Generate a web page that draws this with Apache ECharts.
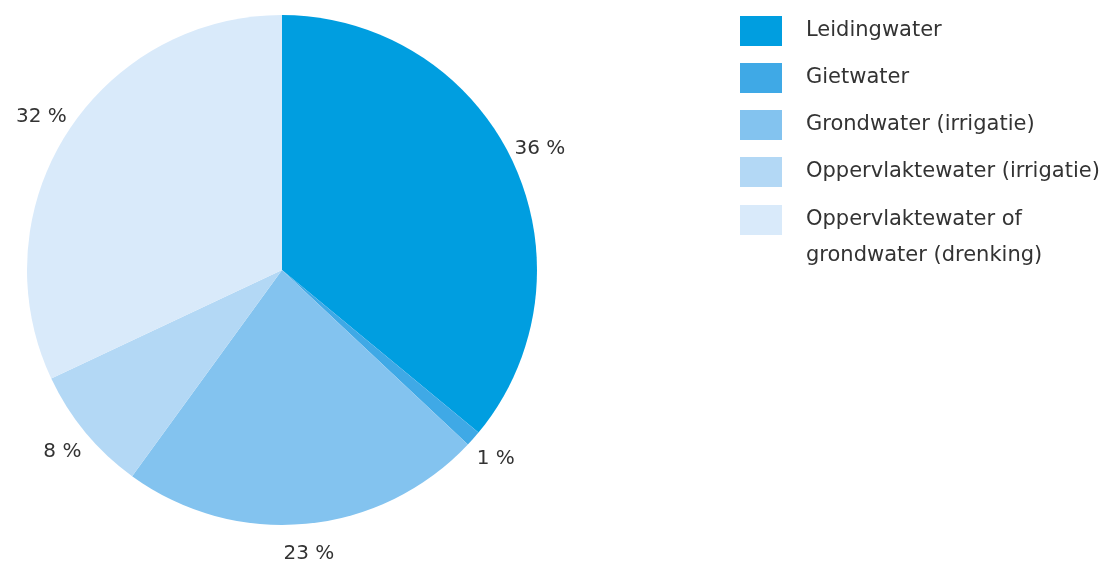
<!DOCTYPE html>
<html>
<head>
<meta charset="utf-8">
<script src="https://cdn.jsdelivr.net/npm/echarts@6/dist/echarts.min.js"></script>
<style>
  html, body { margin: 0; padding: 0; background: #ffffff; }
  #chart { width: 1112px; height: 563px; }
</style>
</head>
<body>
<div id="chart"></div>
<script>
// Water sources (share in %)
const categories = [
  'Leidingwater',
  'Gietwater',
  'Grondwater (irrigatie)',
  'Oppervlaktewater (irrigatie)',
  'Oppervlaktewater of\ngrondwater (drenking)'
];
const shares = [36, 1, 23, 8, 32];
const colors = ['#009ee0', '#3fa9e6', '#83c3ef', '#b3d8f5', '#d9eafa'];

const fontFamily = '"DejaVu Sans", "Open Sans", sans-serif';
const textColor = '#333333';

const pieData = categories.map((name, i) => ({
  name: name,
  value: shares[i],
  itemStyle: { color: colors[i] }
}));

// Thin transparent ring just outside the pie; it only carries the value labels
const labelRing = categories.map((name, i) => ({
  name: name,
  value: shares[i],
  itemStyle: { color: 'rgba(0,0,0,0)' }
}));

const legendItem = (name, i) => ({ name: name, itemStyle: { color: colors[i] } });
const singleLine = [];
const multiLine = [];
categories.forEach((name, i) => {
  (name.indexOf('\n') >= 0 ? multiLine : singleLine).push(legendItem(name, i));
});

const legendBase = {
  orient: 'vertical',
  left: 735,
  itemWidth: 42,
  itemHeight: 30,
  itemGap: 17,
  icon: 'rect',
  selectedMode: false,
  textStyle: {
    fontFamily: fontFamily,
    fontSize: 21,
    color: textColor,
    padding: [0, 0, 0, 19]
  }
};

const chart = echarts.init(document.getElementById('chart'));
chart.setOption({
  animation: false,
  legend: [
    Object.assign({}, legendBase, { top: 11, data: singleLine }),
    // Wrapped entry: an empty leading line keeps its first line level with the swatch
    Object.assign({}, legendBase, {
      top: 161,
      data: multiLine,
      formatter: function (name) { return '\n' + name; },
      textStyle: Object.assign({}, legendBase.textStyle, { lineHeight: 36 })
    })
  ],
  series: [
    {
      type: 'pie',
      center: [282, 270],
      radius: [0, 255],
      startAngle: 90,
      clockwise: true,
      silent: true,
      label: { show: false },
      labelLine: { show: false },
      data: pieData
    },
    {
      type: 'pie',
      center: [282, 270],
      radius: [268, 296],
      startAngle: 90,
      clockwise: true,
      silent: true,
      label: {
        show: true,
        position: 'inside',
        formatter: '{c} %',
        fontFamily: fontFamily,
        fontSize: 20,
        color: textColor
      },
      labelLine: { show: false },
      data: labelRing
    }
  ]
});
</script>
</body>
</html>
